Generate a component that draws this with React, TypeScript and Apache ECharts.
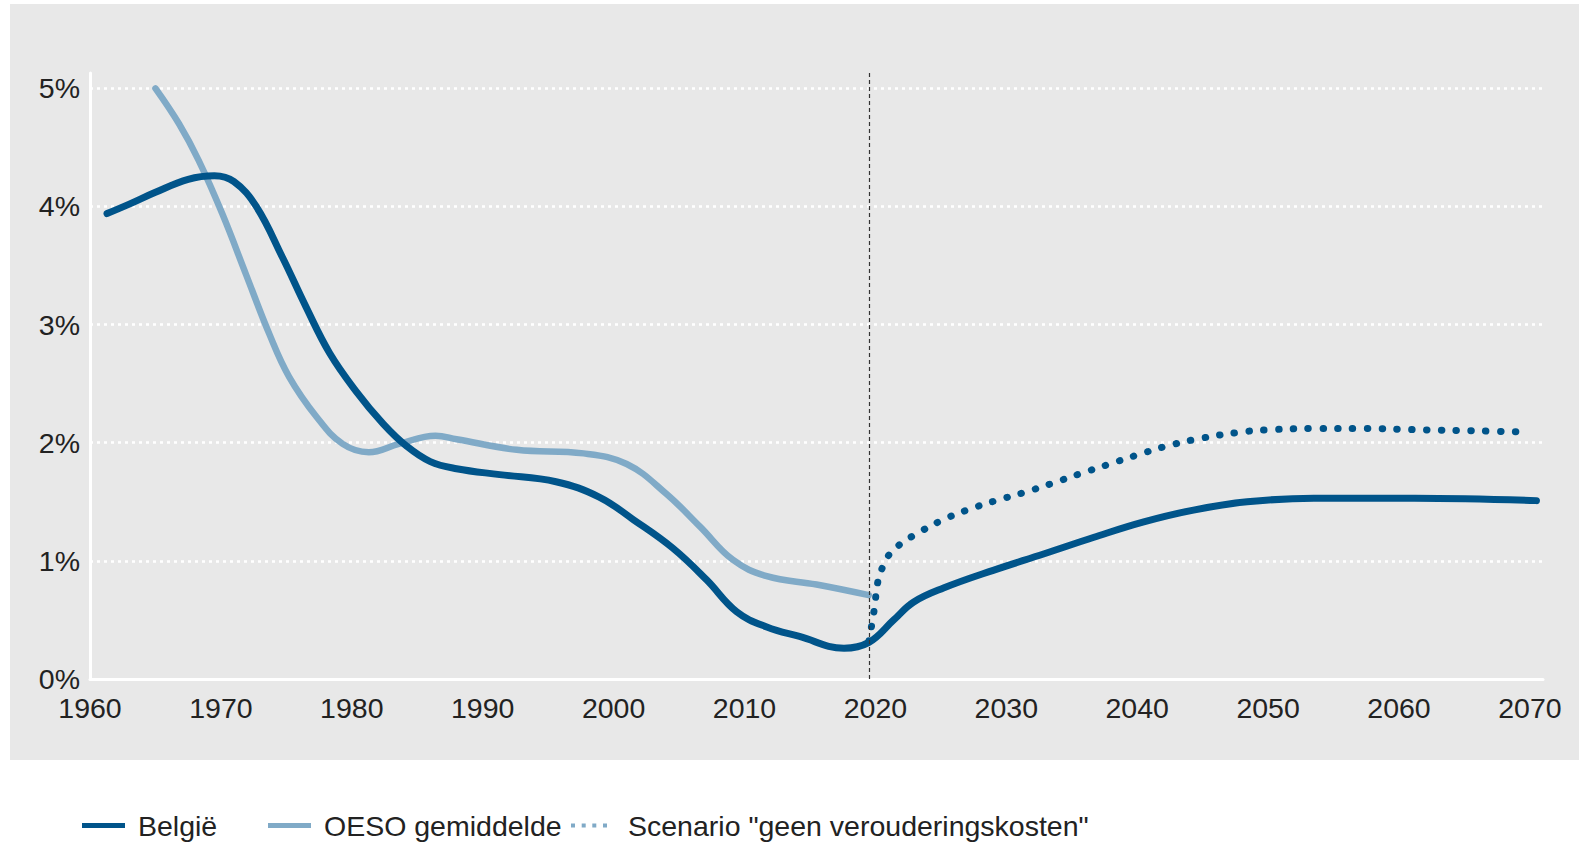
import React, { useEffect, useRef } from 'react';
import * as echarts from 'echarts';

// ---- data ----
const belgieYears = [1961.3, 1963, 1965, 1967.5, 1969.5, 1971, 1972.7, 1974.7, 1976.5, 1978.3, 1980.3, 1982.4, 1984.2, 1986, 1988, 1991.3, 1995.6, 1998.9, 2001.5, 2004.5, 2007.1, 2009.4, 2011.7, 2014.2, 2017.6, 2019.5, 2021.4, 2022.9, 2025.2, 2029, 2032.9, 2036.7, 2040.5, 2044.3, 2048.4, 2053.5, 2061.2, 2070.5];
const belgieValues = [3.94, 4.02, 4.12, 4.23, 4.26, 4.21, 4.0, 3.57, 3.15, 2.76, 2.44, 2.16, 1.97, 1.84, 1.78, 1.73, 1.67, 1.54, 1.35, 1.11, 0.84, 0.57, 0.44, 0.36, 0.26, 0.31, 0.5, 0.65, 0.77, 0.92, 1.06, 1.2, 1.33, 1.43, 1.5, 1.53, 1.53, 1.51];

const oesoYears = [1965, 1966.8, 1968.3, 1970.1, 1971.9, 1973.7, 1975.2, 1977.3, 1979.3, 1981.3, 1983.6, 1986.4, 1988, 1992.6, 1997.7, 2001, 2004, 2006.6, 2009.1, 2011.7, 2015.5, 2019.5];
const oesoValues = [5.0, 4.7, 4.39, 3.94, 3.43, 2.92, 2.56, 2.22, 1.99, 1.92, 1.99, 2.06, 2.03, 1.94, 1.91, 1.82, 1.57, 1.29, 1.01, 0.87, 0.8, 0.71];

const scenarioYears = [2019.5, 2019.9, 2020.2, 2020.6, 2021.1, 2022, 2023, 2025, 2027, 2029.2, 2031.4, 2033.6, 2035.7, 2037.9, 2040.1, 2042.2, 2044.5, 2047.9, 2050.1, 2053.5, 2057.1, 2061.6, 2066.2, 2070];
const scenarioValues = [0.32, 0.58, 0.83, 0.96, 1.06, 1.15, 1.22, 1.34, 1.43, 1.51, 1.58, 1.66, 1.74, 1.82, 1.9, 1.97, 2.03, 2.09, 2.11, 2.12, 2.12, 2.11, 2.1, 2.09];

const gridValues = [1, 2, 3, 4, 5];
const projectionStart = 2019.5;

const seriesNames = ['België', 'OESO gemiddelde', 'Scenario "geen verouderingskosten"'];

const DARK = '#00548A';
const LIGHT = '#80AAC7';
const TEXT = '#222222';
const FONT = "'Liberation Sans Narrow', 'Arial Narrow', 'Liberation Sans', Arial, sans-serif";
const FS = 28.5;

const pairs = (xs: number[], ys: number[]) => xs.map((x, i) => [x, ys[i]]);

export default function App() {
  const ref = useRef<HTMLDivElement>(null);

  useEffect(() => {
    if (!ref.current) return;
    const chart = echarts.init(ref.current, undefined, { renderer: 'svg' });
    const legendText = (pad: number) => ({ color: TEXT, fontSize: FS, fontFamily: FONT, padding: [0, 0, 0, pad] });
    const legendBase = {
      top: 811,
      selectedMode: false,
      padding: 0,
    };
    chart.setOption({
      animation: false,
      backgroundColor: '#ffffff',
      graphic: [
        {
          type: 'rect',
          left: 10,
          top: 4,
          shape: { width: 1569, height: 756 },
          style: { fill: '#E8E8E8' },
          z: -10,
          silent: true,
        },
      ],
      grid: { left: 90, right: 36, top: 73, bottom: 163, containLabel: false },
      xAxis: {
        type: 'value',
        min: 1960,
        max: 2071,
        interval: 10,
        axisLine: { show: true, lineStyle: { color: '#ffffff', width: 3 } },
        axisTick: { show: false },
        splitLine: { show: false },
        axisLabel: {
          color: TEXT,
          fontSize: FS,
          fontFamily: FONT,
          margin: 14,
          showMaxLabel: false,
          formatter: (v: number) => (v % 10 === 0 ? String(v) : ''),
        },
      },
      yAxis: {
        type: 'value',
        min: 0,
        max: 5.13,
        interval: 1,
        axisLine: { show: true, lineStyle: { color: '#ffffff', width: 3 } },
        axisTick: { show: false },
        splitLine: { show: false },
        axisLabel: {
          color: TEXT,
          fontSize: FS,
          fontFamily: FONT,
          margin: 10,
          showMaxLabel: false,
          formatter: (v: number) => (Number.isInteger(v) ? v + '%' : ''),
        },
      },
      legend: [
        {
          ...legendBase,
          left: 82,
          itemWidth: 43,
          itemHeight: 5,
          textStyle: legendText(8),
          data: [{ name: seriesNames[0], icon: 'rect', itemStyle: { color: DARK } }],
        },
        {
          ...legendBase,
          left: 268,
          itemWidth: 43,
          itemHeight: 5,
          textStyle: legendText(8),
          data: [{ name: seriesNames[1], icon: 'rect', itemStyle: { color: LIGHT } }],
        },
        {
          ...legendBase,
          left: 571,
          itemWidth: 36,
          itemHeight: 4,
          textStyle: legendText(16),
          data: [
            {
              name: seriesNames[2],
              icon: 'path://M0,0h4v4h-4z M10.7,0h4v4h-4z M21.3,0h4v4h-4z M32,0h4v4h-4z',
              itemStyle: { color: LIGHT },
            },
          ],
        },
      ],
      series: [
        {
          name: seriesNames[1],
          type: 'line',
          data: pairs(oesoYears, oesoValues),
          smooth: 0.4,
          symbol: 'none',
          z: 3,
          lineStyle: { color: LIGHT, width: 6.5, cap: 'round' },
          itemStyle: { color: LIGHT },
          markLine: {
            silent: true,
            symbol: 'none',
            z: 1,
            label: { show: false },
            lineStyle: { color: '#ffffff', width: 2.5, type: [3, 4] },
            data: gridValues.map((v) => ({ yAxis: v })),
          },
        },
        {
          name: seriesNames[0],
          type: 'line',
          data: pairs(belgieYears, belgieValues),
          smooth: 0.4,
          symbol: 'none',
          z: 4,
          lineStyle: { color: DARK, width: 7, cap: 'round' },
          itemStyle: { color: DARK },
          markLine: {
            silent: true,
            symbol: 'none',
            z: 6,
            label: { show: false },
            lineStyle: { color: '#333333', width: 1.2, type: [4, 3] },
            data: [{ xAxis: projectionStart }],
          },
        },
        {
          name: seriesNames[2],
          type: 'line',
          data: pairs(scenarioYears, scenarioValues),
          smooth: 0.4,
          symbol: 'none',
          z: 4,
          lineStyle: { color: DARK, width: 7, type: [0.5, 14.3], cap: 'round' },
          itemStyle: { color: DARK },
        },
      ],
    });
    return () => chart.dispose();
  }, []);

  return (
    <div
      ref={ref}
      style={{ position: 'fixed', left: 0, top: 0, width: 1579, height: 842 }}
    />
  );
}
